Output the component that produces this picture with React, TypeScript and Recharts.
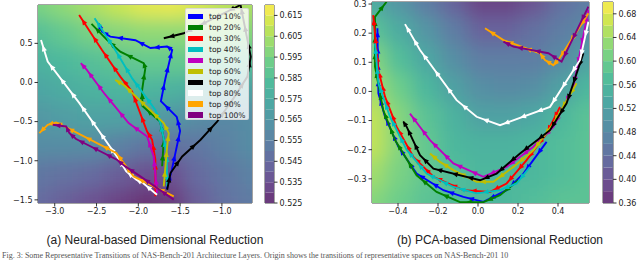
import React from 'react';
import { ScatterChart, Scatter, XAxis, YAxis, ReferenceArea, BarChart, Bar } from 'recharts';

type Pt = [number, number];

const seriesNames = ['top 10%', 'top 20%', 'top 30%', 'top 40%', 'top 50%', 'top 60%', 'top 70%', 'top 80%', 'top 90%', 'top 100%'];
const seriesColors = ['#0000ff', '#008000', '#ff0000', '#00bfbf', '#bf00bf', '#bfbf00', '#000000', '#ffffff', '#ffa500', '#800080'];

// (a) neural-based reduction
const nXTicks = [-3.0, -2.5, -2.0, -1.5, -1.0];
const nYTicks = [-1.5, -1.0, -0.5, 0.0, 0.5];
const nLevels = [0.525, 0.53, 0.535, 0.54, 0.545, 0.55, 0.555, 0.56, 0.565, 0.57, 0.575, 0.58, 0.585, 0.59, 0.595, 0.6, 0.605, 0.61, 0.615, 0.62];
const nCbTicks = [0.525, 0.535, 0.545, 0.555, 0.565, 0.575, 0.585, 0.595, 0.605, 0.615];
const nGridX = [-3.2, -2.88, -2.56, -2.24, -1.92, -1.6, -1.28, -0.96, -0.64];
const nGridY = [0.99, 0.63, 0.27, -0.09, -0.45, -0.81, -1.17, -1.54];
const nGrid = [
  [0.595, 0.6, 0.605, 0.61, 0.615, 0.616, 0.613, 0.608, 0.605],
  [0.585, 0.59, 0.595, 0.598, 0.6, 0.6, 0.6, 0.598, 0.598],
  [0.578, 0.582, 0.585, 0.588, 0.59, 0.59, 0.59, 0.588, 0.585],
  [0.572, 0.575, 0.578, 0.58, 0.58, 0.578, 0.575, 0.572, 0.57],
  [0.565, 0.568, 0.57, 0.57, 0.568, 0.565, 0.56, 0.558, 0.56],
  [0.56, 0.56, 0.56, 0.555, 0.55, 0.548, 0.55, 0.555, 0.56],
  [0.55, 0.548, 0.545, 0.54, 0.535, 0.535, 0.545, 0.55, 0.555],
  [0.545, 0.54, 0.535, 0.53, 0.525, 0.527, 0.54, 0.548, 0.552],
];
const nTop10: Pt[] = [[-1.66, -1.36], [-1.6, -1.12], [-1.5, -0.62], [-1.54, -0.44], [-1.73, -0.24], [-1.675, 0.055], [-1.595, 0.416], [-1.655, 0.46], [-1.855, 0.44], [-2.035, 0.54], [-2.335, 0.586], [-2.435, 0.65], [-2.476, 0.757]];
const nTop20: Pt[] = [[-1.715, -1.07], [-1.695, -0.72], [-1.74, -0.5], [-1.95, -0.3], [-1.955, -0.1], [-1.916, 0.183], [-1.936, 0.246], [-2.216, 0.394], [-2.375, 0.544], [-2.56, 0.75]];
const nTop30: Pt[] = [[-1.796, -1.455], [-1.796, -0.987], [-1.835, -0.732], [-1.895, -0.626], [-2.075, -0.116], [-2.216, 0.075], [-2.435, 0.416], [-2.708, 0.862]];
const nTop40: Pt[] = [[-1.655, -1.33], [-1.66, -0.9], [-1.735, -0.519], [-1.796, -0.35], [-2.075, 0.055], [-2.276, 0.416], [-2.523, 0.82]];
const nTop50: Pt[] = [[-1.776, -1.412], [-1.816, -0.945], [-1.895, -0.69], [-2.116, -0.519], [-2.4, -0.15], [-2.616, 0.161], [-2.688, 0.246]];
const nTop60: Pt[] = [[-1.696, -1.327], [-1.655, -0.817], [-1.636, -0.647], [-1.696, -0.519], [-2.176, -0.03], [-2.276, 0.033]];
const nTop70: Pt[] = [[-1.655, -1.37], [-1.615, -1.157], [-1.475, -0.945], [-1.255, -0.732], [-1.055, -0.498], [-0.86, -0.2], [-0.695, 0.075], [-0.655, 0.33], [-0.777, 0.99], [-1.457, 0.629], [-1.695, 0.565]];
const nTop80: Pt[] = [[-1.776, -1.434], [-1.944, -1.284], [-2.024, -1.242], [-2.144, -1.136], [-2.244, -0.966], [-2.705, -0.264], [-3.084, 0.267], [-3.164, 0.543]];
const nTop90: Pt[] = [[-1.576, -1.455], [-2.056, -1.2], [-2.264, -0.9], [-2.884, -0.562], [-2.984, -0.511], [-3.084, -0.54], [-3.184, -0.647]];
const nTop100: Pt[] = [[-1.576, -1.497], [-1.976, -1.2], [-2.156, -1.072], [-2.256, -0.987], [-2.744, -0.723], [-2.824, -0.647], [-2.864, -0.562], [-3.024, -0.54]];

// (b) PCA-based reduction
const pXTicks = [-0.4, -0.2, 0.0, 0.2, 0.4];
const pYTicks = [-0.3, -0.2, -0.1, 0.0, 0.1, 0.2, 0.3];
const pLevels = [0.36, 0.38, 0.4, 0.42, 0.44, 0.46, 0.48, 0.5, 0.52, 0.54, 0.56, 0.58, 0.6, 0.62, 0.64, 0.66, 0.68, 0.7];
const pCbTicks = [0.36, 0.4, 0.44, 0.48, 0.52, 0.56, 0.6, 0.64, 0.68];
const pGridX = [-0.53, -0.394, -0.259, -0.123, 0.0125, 0.148, 0.284, 0.419, 0.555];
const pGridY = [0.307, 0.208, 0.11, 0.011, -0.088, -0.186, -0.285, -0.383];
const pGrid = [
  [0.54, 0.5, 0.46, 0.42, 0.38, 0.38, 0.4, 0.44, 0.46],
  [0.58, 0.54, 0.5, 0.46, 0.42, 0.42, 0.44, 0.46, 0.48],
  [0.62, 0.57, 0.53, 0.49, 0.46, 0.46, 0.46, 0.48, 0.52],
  [0.64, 0.6, 0.56, 0.52, 0.49, 0.48, 0.49, 0.52, 0.56],
  [0.66, 0.62, 0.58, 0.55, 0.52, 0.52, 0.53, 0.56, 0.58],
  [0.66, 0.62, 0.59, 0.56, 0.55, 0.55, 0.56, 0.57, 0.58],
  [0.64, 0.61, 0.59, 0.57, 0.56, 0.56, 0.56, 0.57, 0.58],
  [0.62, 0.6, 0.58, 0.57, 0.56, 0.56, 0.57, 0.58, 0.58],
];
const pTop10: Pt[] = [[0.343, -0.173], [0.227, -0.282], [0.143, -0.339], [0.027, -0.379], [-0.073, -0.362], [-0.173, -0.339], [-0.307, -0.282], [-0.398, -0.19], [-0.465, -0.087], [-0.498, -0.007], [-0.503, 0.217]];
const pTop20: Pt[] = [[0.202, -0.305], [0.11, -0.356], [0.027, -0.38], [-0.09, -0.38], [-0.207, -0.345], [-0.307, -0.288], [-0.415, -0.167], [-0.474, -0.064], [-0.515, 0.085], [-0.515, 0.256], [-0.457, 0.308]];
const pTop30: Pt[] = [[0.41, -0.053], [0.343, -0.144], [0.243, -0.236], [0.143, -0.316], [0.06, -0.345], [-0.073, -0.339], [-0.223, -0.293], [-0.323, -0.225], [-0.407, -0.121], [-0.465, -0.018], [-0.498, 0.073], [-0.524, 0.262]];
const pTop40: Pt[] = [[0.26, -0.259], [0.193, -0.316], [0.11, -0.339], [-0.007, -0.35], [-0.123, -0.328], [-0.257, -0.282], [-0.357, -0.2], [-0.44, -0.087], [-0.498, 0.028], [-0.515, 0.165]];
const pTop50: Pt[] = [[0.552, 0.28], [0.477, 0.016], [0.377, -0.122], [0.277, -0.19], [0.143, -0.259], [0.027, -0.293], [-0.123, -0.247], [-0.24, -0.167], [-0.29, -0.122], [-0.34, -0.076]];
const pTop60: Pt[] = [[0.493, 0.028], [0.377, -0.11], [0.277, -0.202], [0.177, -0.259], [0.077, -0.31], [-0.007, -0.31], [-0.123, -0.27], [-0.19, -0.242], [-0.24, -0.213]];
const pTop70: Pt[] = [[0.527, 0.131], [0.443, -0.041], [0.36, -0.133], [0.21, -0.213], [0.093, -0.282], [0.01, -0.305], [-0.223, -0.265], [-0.29, -0.219], [-0.357, -0.121], [-0.373, -0.104]];
const pTop80: Pt[] = [[0.552, 0.239], [0.51, 0.108], [0.36, -0.053], [0.11, -0.116], [-0.007, -0.087], [-0.107, -0.03], [-0.29, 0.142], [-0.365, 0.231]];
const pTop90: Pt[] = [[0.552, 0.268], [0.402, 0.108], [0.377, 0.09], [0.335, 0.108], [0.31, 0.131], [0.127, 0.176], [0.035, 0.217]];
const pTop100: Pt[] = [[0.552, 0.291], [0.418, 0.102], [0.352, 0.131], [0.177, 0.154], [0.127, 0.171]];

const nPaths = [nTop10, nTop20, nTop30, nTop40, nTop50, nTop60, nTop70, nTop80, nTop90, nTop100];
const pPaths = [pTop10, pTop20, pTop30, pTop40, pTop50, pTop60, pTop70, pTop80, pTop90, pTop100];

const VIRIDIS = ['#440154', '#482475', '#414487', '#355f8d', '#2a788e', '#21918c', '#22a884', '#44bf70', '#7ad151', '#bddf26', '#fde725'];
const rgb = (h: string) => [1, 3, 5].map((i) => parseInt(h.slice(i, i + 2), 16));

function viridis(t: number) {
  const tt = Math.max(0, Math.min(1, t)) * 10;
  const i = Math.min(9, Math.floor(tt));
  const f = tt - i;
  const a = rgb(VIRIDIS[i]);
  const b = rgb(VIRIDIS[i + 1]);
  // alpha 0.8 over white, like the matplotlib contourf
  const c = a.map((v, k) => Math.round((v + (b[k] - v) * f) * 0.8 + 255 * 0.2));
  return `rgb(${c[0]},${c[1]},${c[2]})`;
}

const FONT = '"DejaVu Sans", sans-serif';
const tickStyle = { fontSize: 8, fill: '#222', fontFamily: FONT };
const fmt = (d: number) => (v: number) => v.toFixed(d).replace('-', '\u2212');
const H = 225;

interface PanelProps {
  pageLeft: number; width: number; plotLeft: number; plotRight: number; plotTop: number; plotBottom: number;
  xDomain: [number, number]; yDomain: [number, number]; xTicks: number[]; yTicks: number[];
  gridX: number[]; gridY: number[]; grid: number[][]; levels: number[]; paths: Pt[][]; blurId: string;
}

function FieldPanel(p: PanelProps) {
  const kx = (p.plotRight - p.plotLeft) / (p.xDomain[1] - p.xDomain[0]);
  const ky = (p.plotBottom - p.plotTop) / (p.yDomain[1] - p.yDomain[0]);
  const lo = p.levels[0];
  const hi = p.levels[p.levels.length - 1];
  const stepX = (p.gridX[p.gridX.length - 1] - p.gridX[0]) / (p.gridX.length - 1);
  const stepY = Math.abs(p.gridY[p.gridY.length - 1] - p.gridY[0]) / (p.gridY.length - 1);

  const cells = p.grid.flatMap((row, r) => row.map((v, c) => ({ x: p.gridX[c], y: p.gridY[r], v, r, c })));
  const lastC = p.gridX.length - 1;
  const lastR = p.gridY.length - 1;

  const cellShape = (s: any) => {
    const { cx, cy, payload } = s;
    const w = stepX * kx;
    const h = stepY * ky;
    let x0 = cx - w / 2 - 0.5, x1 = cx + w / 2 + 0.5, y0 = cy - h / 2 - 0.5, y1 = cy + h / 2 + 0.5;
    if (payload.c === 0) x0 -= 30;
    if (payload.c === lastC) x1 += 30;
    if (payload.r === 0) y0 -= 30;
    if (payload.r === lastR) y1 += 30;
    return <rect x={x0} y={y0} width={x1 - x0} height={y1 - y0} fill={viridis((payload.v - lo) / (hi - lo))} />;
  };

  const arrowShape = (color: string) => (s: any) => {
    const { cx, cy, payload } = s;
    if (payload.px === undefined) return <g />;
    const vx = (payload.x - payload.px) * kx;
    const vy = -(payload.y - payload.py) * ky;
    const L = Math.hypot(vx, vy);
    if (L < 1) return <g />;
    const ux = vx / L, uy = vy / L;
    const n = Math.max(1, Math.round(L / 18));
    const sx = cx - vx, sy = cy - vy;
    const heads = [];
    for (let k = 0; k < n; k++) {
      const t = (k + 0.6) / n;
      const hx = sx + vx * t, hy = sy + vy * t;
      const pts = [
        [hx + ux * 3.5, hy + uy * 3.5],
        [hx - ux * 2.5 - uy * 2.6, hy - uy * 2.5 + ux * 2.6],
        [hx - ux * 2.5 + uy * 2.6, hy - uy * 2.5 - ux * 2.6],
      ].map((q) => q.join(',')).join(' ');
      heads.push(<polygon key={k} points={pts} fill={color} />);
    }
    return <g>{heads}</g>;
  };

  return (
    <div style={{ position: 'absolute', left: p.pageLeft, top: 0 }}>
      <ScatterChart width={p.width} height={H} margin={{ top: p.plotTop, right: p.width - p.plotRight, left: 0, bottom: 0 }}>
        <XAxis type="number" dataKey="x" domain={p.xDomain} allowDataOverflow ticks={p.xTicks} interval={0}
          tickFormatter={fmt(1)} height={H - p.plotBottom} axisLine={false} tickSize={3.5} tickLine={{ stroke: '#333' }} tick={tickStyle} />
        <YAxis type="number" dataKey="y" domain={p.yDomain} allowDataOverflow ticks={p.yTicks} interval={0}
          tickFormatter={fmt(1)} width={p.plotLeft} axisLine={false} tickSize={3.5} tickLine={{ stroke: '#333' }} tick={tickStyle} />
        <Scatter data={cells} className={'field-' + p.blurId} shape={cellShape} isAnimationActive={false} />
        {p.paths.map((path, i) => (
          <Scatter
            key={i}
            data={path.map(([x, y], j) => (j === 0 ? { x, y } : { x, y, px: path[j - 1][0], py: path[j - 1][1] }))}
            line={{ stroke: seriesColors[i], strokeWidth: 1.9 }}
            lineType="joint"
            shape={arrowShape(seriesColors[i])}
            isAnimationActive={false}
          />
        ))}
        <ReferenceArea x1={p.xDomain[0]} x2={p.xDomain[1]} y1={p.yDomain[0]} y2={p.yDomain[1]} fill="none" stroke="#333" strokeWidth={0.9} fillOpacity={0} ifOverflow="visible" />
      </ScatterChart>
    </div>
  );
}

interface BarProps {
  pageLeft: number; width: number; plotLeft: number; plotRight: number; plotTop: number; plotBottom: number;
  levels: number[]; ticks: number[]; digits: number;
}

function ColorBar(p: BarProps) {
  const row: Record<string, any> = { name: 'cb', base: p.levels[0] };
  p.levels.slice(1).forEach((lv, i) => { row['b' + i] = lv - p.levels[i]; });
  const lo = p.levels[0];
  const hi = p.levels[p.levels.length - 1];
  return (
    <div style={{ position: 'absolute', left: p.pageLeft, top: 0 }}>
      <BarChart width={p.width} height={H} data={[row]} barCategoryGap={0} barGap={0}
        margin={{ top: p.plotTop, right: 0, left: p.plotLeft, bottom: H - p.plotBottom }}>
        <XAxis dataKey="name" hide />
        <YAxis orientation="right" type="number" domain={[lo, hi]} allowDataOverflow ticks={p.ticks} interval={0}
          tickFormatter={fmt(p.digits)} width={p.width - p.plotRight} axisLine={false} tickSize={3.5} tickLine={{ stroke: '#333' }} tick={tickStyle} />
        <Bar dataKey="base" stackId="cb" fill="none" isAnimationActive={false} />
        {p.levels.slice(1).map((lv, i) => (
          <Bar key={i} dataKey={'b' + i} stackId="cb" fill={viridis((lv - lo - (lv - p.levels[i]) / 2) / (hi - lo))} isAnimationActive={false} />
        ))}
        <ReferenceArea y1={lo} y2={hi} fill="none" fillOpacity={0} stroke="#333" strokeWidth={0.9} ifOverflow="visible" />
      </BarChart>
    </div>
  );
}

function LegendBox() {
  return (
    <div style={{
      position: 'absolute', left: 185, top: 8, width: 64, height: 112, boxSizing: 'border-box',
      background: 'rgba(255,255,255,0.8)', border: '1px solid rgba(210,210,210,0.8)', borderRadius: 2,
    }}>
      {seriesNames.map((name, i) => (
        <div key={name} style={{ position: 'absolute', left: 2, top: 2.5 + i * 10.96, height: 10, display: 'flex', alignItems: 'center' }}>
          <span style={{ display: 'inline-block', width: 15, height: 5.5, background: seriesColors[i] }} />
          <span style={{ marginLeft: 6, fontSize: 7.6, fontFamily: FONT, color: '#222', whiteSpace: 'nowrap' }}>{name}</span>
        </div>
      ))}
    </div>
  );
}

const captionStyle: React.CSSProperties = {
  position: 'absolute', top: 233, fontFamily: '"Liberation Sans", Arial, sans-serif', fontSize: 12, color: '#222',
  whiteSpace: 'nowrap', transform: 'translateX(-50%)',
};

export default function App() {
  return (
    <div style={{ position: 'absolute', left: 0, top: 0, width: 640, height: 262, overflow: 'hidden', background: '#fff' }}>
      <svg width={0} height={0} style={{ position: 'absolute' }}>
        <defs>
          <filter id="na" x="-10%" y="-10%" width="120%" height="120%"><feGaussianBlur stdDeviation="9" /></filter>
          <filter id="pb" x="-10%" y="-10%" width="120%" height="120%"><feGaussianBlur stdDeviation="9" /></filter>
        </defs>
      </svg>
      <style>{'.field-na{filter:url(#na)}.field-pb{filter:url(#pb)}'}</style>
      <FieldPanel pageLeft={0} width={260} plotLeft={38} plotRight={252} plotTop={5} plotBottom={203}
        xDomain={[-3.2, -0.64]} yDomain={[-1.54, 0.99]} xTicks={nXTicks} yTicks={nYTicks}
        gridX={nGridX} gridY={nGridY} grid={nGrid} levels={nLevels} paths={nPaths} blurId="na" />
      <LegendBox />
      <ColorBar pageLeft={255} width={65} plotLeft={10} plotRight={19} plotTop={5} plotBottom={203}
        levels={nLevels} ticks={nCbTicks} digits={3} />
      <FieldPanel pageLeft={320} width={280} plotLeft={52} plotRight={269} plotTop={2} plotBottom={203}
        xDomain={[-0.53, 0.555]} yDomain={[-0.383, 0.307]} xTicks={pXTicks} yTicks={pYTicks}
        gridX={pGridX} gridY={pGridY} grid={pGrid} levels={pLevels} paths={pPaths} blurId="pb" />
      <ColorBar pageLeft={595} width={45} plotLeft={8} plotRight={18} plotTop={2} plotBottom={203}
        levels={pLevels} ticks={pCbTicks} digits={2} />
      <div style={{ ...captionStyle, left: 155 }}>(a) Neural-based Dimensional Reduction</div>
      <div style={{ ...captionStyle, left: 500 }}>(b) PCA-based Dimensional Reduction</div>
      <div style={{
        position: 'absolute', left: 2, top: 251, height: 10, lineHeight: '10px', fontFamily: '"Liberation Serif", serif', fontSize: 8, color: '#555', whiteSpace: 'nowrap',
      }}>
        Fig. 3:  Some Representative Transitions of NAS-Bench-201 Architecture Layers. Origin shows the transitions of representative spaces on NAS-Bench-201 10
      </div>
    </div>
  );
}
